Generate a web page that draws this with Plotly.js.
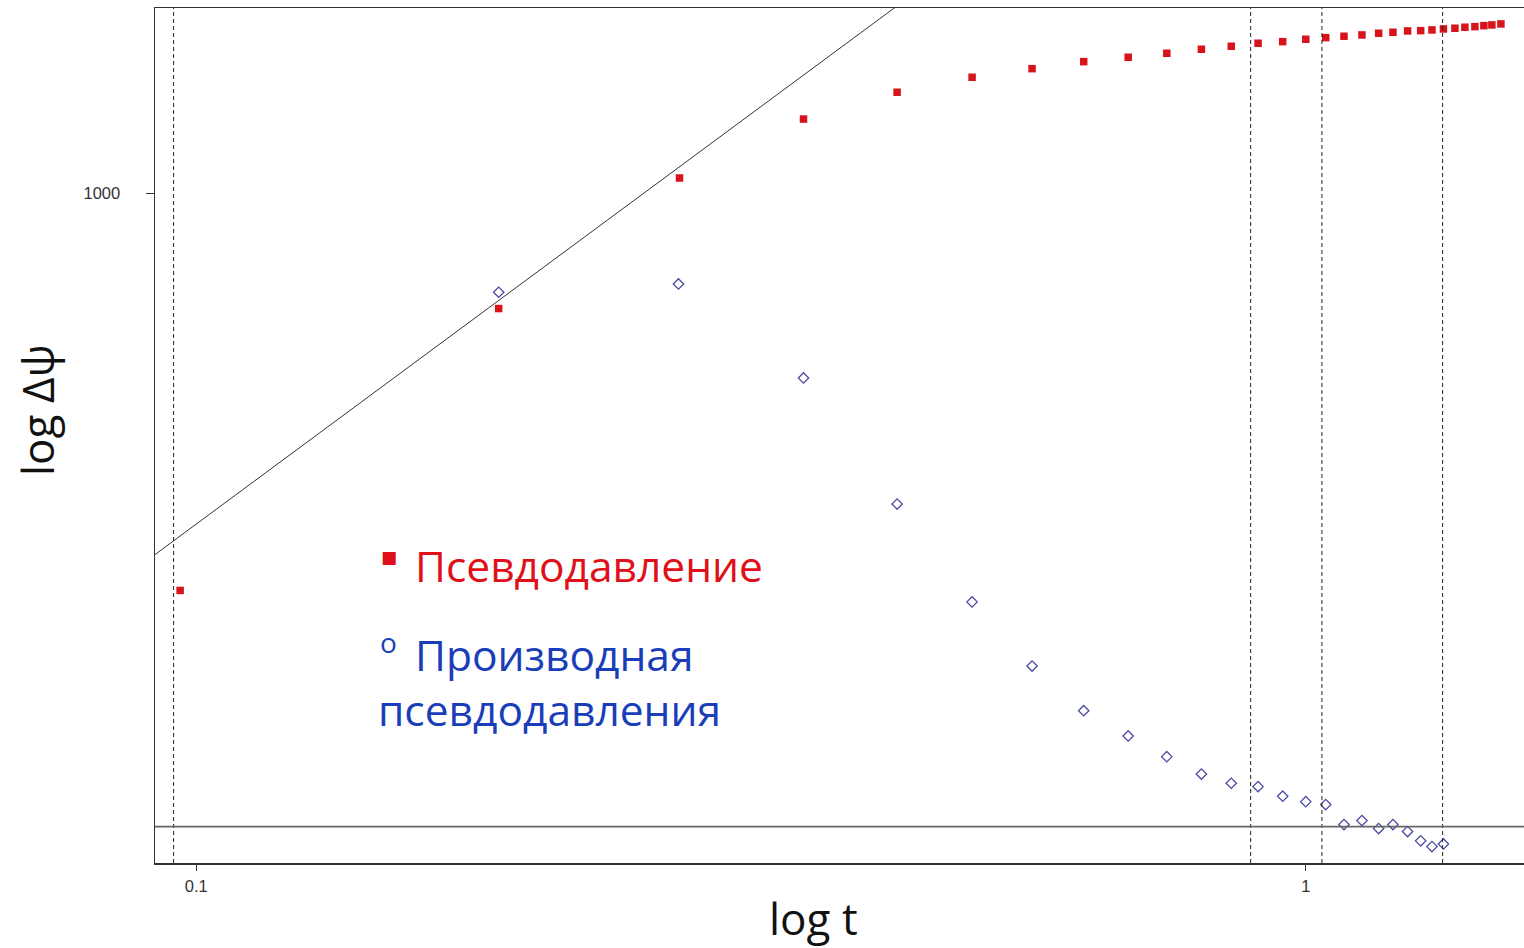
<!DOCTYPE html>
<html>
<head>
<meta charset="utf-8">
<script src="https://cdn.plot.ly/plotly-3.0.1.min.js"></script>
<style>html,body{margin:0;padding:0;background:#fff;}#chart{width:1524px;height:948px;}</style>
</head>
<body>
<div id="chart"></div>
<script>
// Time (log t) for the pseudo-pressure series
const timeP = [0.0967, 0.1873, 0.2726, 0.3526, 0.4282, 0.5003, 0.5666, 0.6307, 0.6917, 0.7494,
  0.8052, 0.8567, 0.9057, 0.9532, 1.000, 1.0422, 1.0825, 1.1236, 1.1632, 1.1983,
  1.2352, 1.2692, 1.2993, 1.3306, 1.3627, 1.3912, 1.4204, 1.4472, 1.4714, 1.4992];
// Pseudo-pressure change Δψ
const pseudoPressure = [328.0, 723.6, 1043.9, 1231.7, 1328.0, 1385.1, 1418.9, 1447.1, 1465.1, 1481.6,
  1498.4, 1511.0, 1523.8, 1530.7, 1541.0, 1548.0, 1554.1, 1559.8, 1567.2, 1571.6,
  1577.4, 1578.7, 1581.8, 1586.3, 1589.4, 1593.9, 1596.5, 1601.0, 1604.2, 1608.7];
// Time for derivative series
const timeD = [0.1873, 0.2720, 0.3526, 0.4282, 0.5003, 0.5666, 0.6307, 0.6917, 0.7494, 0.8052,
  0.8567, 0.9057, 0.9532, 1.000, 1.0422, 1.0825, 1.1236, 1.1632, 1.1983, 1.2352,
  1.2692, 1.2993, 1.3306];
// Pseudo-pressure derivative
const derivative = [757.5, 775.3, 595.5, 418.0, 317.6, 265.3, 234.0, 218.0, 205.7, 195.9,
  190.9, 189.1, 184.1, 181.3, 179.8, 170.0, 171.9, 168.1, 170.0, 166.7,
  162.4, 159.8, 161.0];
// Unit-slope (wellbore storage) line: Δψ = C·t
const unitSlopeT = [0.09, 0.45];
const unitSlopeC = 3952;
// Radial flow stabilisation level
const radialLevel = 169.0;
// Vertical dashed markers (time)
const vLines = [0.0954, 0.8919, 1.0340, 1.3284];
// Axis ticks
const xTicks = [0.1, 1];
const xTickText = ['0.1', '1'];
const yTicks = [1000];
const yTickText = ['1000'];

const traces = [
  {
    x: unitSlopeT, y: unitSlopeT.map(t => unitSlopeC * t),
    mode: 'lines', line: {color: '#333333', width: 1}, hoverinfo: 'skip', showlegend: false
  },
  {
    x: timeP, y: pseudoPressure, mode: 'markers', name: 'Псевдодавление',
    marker: {symbol: 'square', size: 7.5, color: '#d7131c'}, showlegend: false
  },
  {
    x: timeD, y: derivative, mode: 'markers', name: 'Производная псевдодавления',
    marker: {symbol: 'diamond-open', size: 8, color: '#4a4aa0', line: {width: 1.3, color: '#4a4aa0'}}, showlegend: false
  }
];

const shapes = vLines.map(v => ({
  type: 'line', xref: 'x', yref: 'paper', x0: v, x1: v, y0: 0, y1: 1,
  line: {color: '#222', width: 1, dash: '4px,3px'}
}));
shapes.push({
  type: 'line', xref: 'paper', yref: 'y', x0: 0, x1: 1, y0: radialLevel, y1: radialLevel,
  line: {color: '#666', width: 1.6}
});

const legendFont = 'Open Sans, Noto Sans, sans-serif';
const annotations = [
  {xref: 'paper', yref: 'paper', x: 0.1636, y: 0.3579, xanchor: 'left', yanchor: 'middle', showarrow: false,
   text: '■', font: {size: 17, color: '#e0101a', family: 'DejaVu Sans'}},
  {xref: 'paper', yref: 'paper', x: 0.1886, y: 0.3485, xanchor: 'left', yanchor: 'middle', showarrow: false,
   text: 'Псевдодавление', font: {size: 42.5, color: '#e0101a', family: legendFont}},
  {xref: 'paper', yref: 'paper', x: 0.1709, y: 0.258, xanchor: 'center', yanchor: 'middle', showarrow: false,
   text: 'o', font: {size: 28, color: '#1a3db8', family: legendFont}},
  {xref: 'paper', yref: 'paper', x: 0.1886, y: 0.2433, xanchor: 'left', yanchor: 'middle', showarrow: false,
   text: 'Производная', font: {size: 42.5, color: '#1a3db8', family: legendFont}},
  {xref: 'paper', yref: 'paper', x: 0.1615, y: 0.179, xanchor: 'left', yanchor: 'middle', showarrow: false,
   text: 'псевдодавления', font: {size: 42.5, color: '#1a3db8', family: legendFont}},
  // axis titles (placed as in the reference, off-centre)
  {xref: 'paper', yref: 'paper', x: (813 - 155) / 1369, y: (863 - 918) / 855, xanchor: 'center', yanchor: 'middle', showarrow: false,
   text: 'log t', font: {size: 44, color: '#111', family: legendFont}},
  {xref: 'paper', yref: 'paper', x: (37 - 155) / 1369, y: (863 - 410) / 855, xanchor: 'center', yanchor: 'middle', showarrow: false,
   textangle: -90, text: 'log Δψ', font: {size: 44, color: '#111', family: legendFont}}
];

const tickFont = {family: 'Liberation Sans, Arial, sans-serif', size: 16.5, color: '#333'};
const layout = {
  width: 1524, height: 948,
  margin: {l: 155, r: 0, t: 8, b: 85},
  paper_bgcolor: '#ffffff', plot_bgcolor: '#ffffff',
  showlegend: false,
  xaxis: {
    type: 'log', range: [-1.03722, 0.19667],
    tickvals: xTicks, ticktext: xTickText,
    showgrid: false, zeroline: false,
    showline: true, mirror: true, linecolor: '#333', linewidth: 1.5,
    ticks: 'outside', ticklen: 6, tickcolor: '#333',
    tickfont: tickFont, ticklabelstandoff: 2
  },
  yaxis: {
    type: 'log', range: [2.18359, 3.2259],
    tickvals: yTicks, ticktext: yTickText,
    showgrid: false, zeroline: false,
    showline: true, mirror: true, linecolor: '#333', linewidth: 1.5,
    ticks: 'outside', ticklen: 8, tickcolor: '#333',
    tickfont: tickFont, ticklabelstandoff: 22
  },
  shapes: shapes,
  annotations: annotations
};

Plotly.newPlot('chart', traces, layout, {displayModeBar: false, staticPlot: true});
</script>
</body>
</html>
